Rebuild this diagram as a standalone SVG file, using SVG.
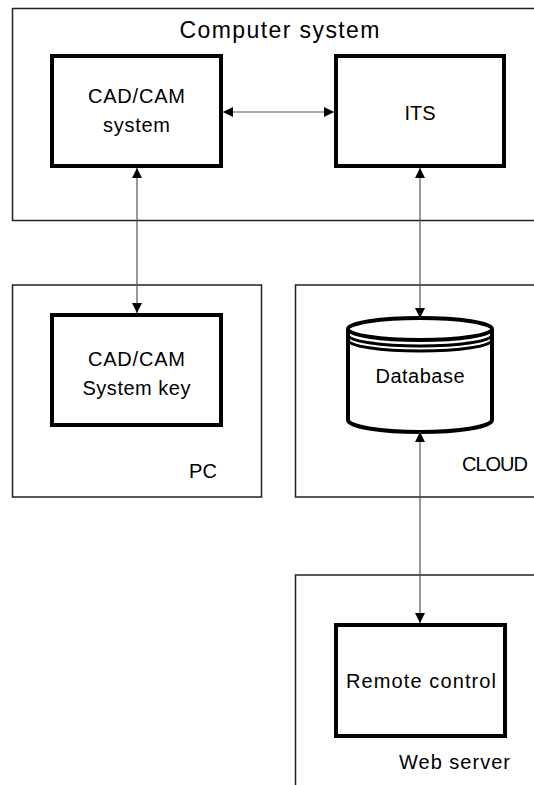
<svg xmlns="http://www.w3.org/2000/svg" width="534" height="785" viewBox="0 0 534 785">
<style>
.frame{fill:none;stroke:#222;stroke-width:1.5}
.box{fill:#fff;stroke:#000;stroke-width:4}
.db{fill:#fff;stroke:#000;stroke-width:4}
.ring{fill:none;stroke:#000;stroke-width:3}
.conn{fill:none;stroke:#555;stroke-width:1.2;marker-start:url(#arr);marker-end:url(#arr)}
text{font-family:"Liberation Sans",Arial,sans-serif;font-size:20px;fill:#000;text-anchor:middle}
.title{font-size:23px}
</style>
<defs>
<marker id="arr" viewBox="0 0 10 10" refX="10" refY="5" markerWidth="10" markerHeight="10" markerUnits="userSpaceOnUse" orient="auto-start-reverse">
<path d="M0,0 L10,5 L0,10 z" fill="#000"/>
</marker>
</defs>
<g id="computer-system">
<rect class="frame" x="12.5" y="8.5" width="540" height="212"/>
<text class="title" x="279.5" y="38" textLength="200" lengthAdjust="spacing">Computer system</text>
</g>
<g id="pc">
<rect class="frame" x="12.5" y="285" width="249" height="212"/>
<text x="203" y="478">PC</text>
</g>
<g id="cloud">
<rect class="frame" x="295.5" y="285" width="250" height="212"/>
<text x="495" y="471" textLength="66" lengthAdjust="spacing">CLOUD</text>
</g>
<g id="web-server">
<rect class="frame" x="295.5" y="575" width="250" height="230"/>
<text x="454.5" y="769" textLength="111" lengthAdjust="spacing">Web server</text>
</g>
<g id="cadcam-system">
<rect class="box" x="52" y="56" width="169" height="110"/>
<text x="136.5" y="103" textLength="97" lengthAdjust="spacing">CAD/CAM</text>
<text x="136.5" y="132" textLength="67" lengthAdjust="spacing">system</text>
</g>
<g id="its">
<rect class="box" x="336" y="56" width="168" height="110"/>
<text x="420" y="120" textLength="31" lengthAdjust="spacing">ITS</text>
</g>
<g id="cadcam-key">
<rect class="box" x="52" y="315" width="169" height="110"/>
<text x="136.5" y="366" textLength="97" lengthAdjust="spacing">CAD/CAM</text>
<text x="136.5" y="395" textLength="108" lengthAdjust="spacing">System key</text>
</g>
<g id="database">
<path class="db" d="M348,329 L348,420 A72,12 0 0 0 492,420 L492,329"/>
<ellipse class="db" cx="420" cy="329" rx="72" ry="11"/>
<path class="ring" d="M348,335 A72,11 0 0 0 492,335"/>
<path class="ring" d="M348,340 A72,11 0 0 0 492,340"/>
<text x="420" y="383" textLength="89" lengthAdjust="spacing">Database</text>
</g>
<g id="remote-control">
<rect class="box" x="336" y="625" width="169" height="111"/>
<text x="421" y="688" textLength="150" lengthAdjust="spacing">Remote control</text>
</g>
<g id="connectors">
<line class="conn" x1="223" y1="112" x2="334" y2="112"/>
<line class="conn" x1="137" y1="168" x2="137" y2="313"/>
<line class="conn" x1="420" y1="168" x2="420" y2="318"/>
<line class="conn" x1="420" y1="432" x2="420" y2="623"/>
</g>
</svg>
